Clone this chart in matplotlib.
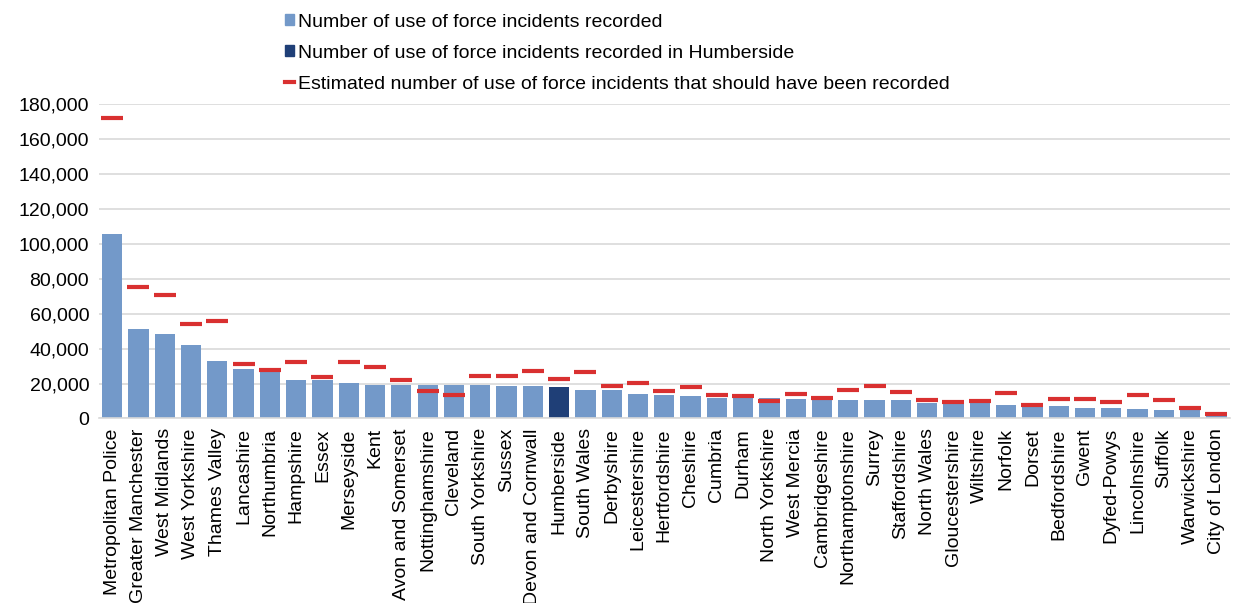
import matplotlib.pyplot as plt
import matplotlib as mpl
from matplotlib.patches import Patch
from matplotlib.lines import Line2D
import numpy as np

forces = ["Metropolitan Police", "Greater Manchester", "West Midlands", "West Yorkshire",
          "Thames Valley", "Lancashire", "Northumbria", "Hampshire", "Essex", "Merseyside",
          "Kent", "Avon and Somerset", "Nottinghamshire", "Cleveland", "South Yorkshire",
          "Sussex", "Devon and Cornwall", "Humberside", "South Wales", "Derbyshire",
          "Leicestershire", "Hertfordshire", "Cheshire", "Cumbria", "Durham",
          "North Yorkshire", "West Mercia", "Cambridgeshire", "Northamptonshire", "Surrey",
          "Staffordshire", "North Wales", "Gloucestershire", "Wiltshire", "Norfolk", "Dorset",
          "Bedfordshire", "Gwent", "Dyfed-Powys", "Lincolnshire", "Suffolk", "Warwickshire",
          "City of London"]

recorded = [105600, 51200, 48500, 42200, 32800, 28600, 28400, 22100, 21800, 20600,
            19300, 19300, 19100, 19100, 19100, 18700, 18700, 17900, 16400, 16200,
            14300, 13500, 12900, 12000, 12000, 11500, 11100, 11000, 10500, 10500,
            10500, 8600, 8600, 8600, 7600, 6900, 6900, 5900, 5900, 5300, 4800, 4800, 1500]

estimated = [172000, 75200, 71000, 54400, 56100, 31100, 27500, 32100, 23800, 32100,
             29600, 21900, 15500, 13500, 24200, 24600, 27100, 22500, 26700, 18500,
             20600, 15600, 17900, 13200, 13000, 9900, 14300, 11600, 16200, 18500,
             15300, 10700, 9500, 9900, 14700, 8000, 11200, 11000, 9500, 13400, 10700,
             5900, 2500]

highlight = "Humberside"
yticks = np.arange(0, 180001, 20000)

light = "#7399C9"
dark = "#1F3F77"
red = "#D93030"

mpl.rcParams["font.family"] = ["Liberation Sans", "DejaVu Sans"]
mpl.rcParams["font.size"] = 14

fig = plt.figure(figsize=(12.37, 6.03), dpi=100)
ax = fig.add_axes([0.080, 0.306, 0.914, 0.521])

x = np.arange(len(forces))
colors = [dark if f == highlight else light for f in forces]
ax.bar(x, recorded, width=0.77, color=colors, zorder=2)
ax.plot(x, estimated, linestyle="none", marker="_", markersize=15.5,
        markeredgewidth=3, color=red, zorder=3)

ax.set_xlim(-0.5, len(forces) - 0.5)
ax.set_ylim(0, 180000)
ax.set_yticks(yticks)
ax.set_yticklabels([f"{v:,}" for v in yticks])
ax.set_xticks(x)
ax.set_xticklabels(forces, rotation=90)
ax.tick_params(length=0, pad=7, colors="#000000")
ax.grid(axis="y", color="#D9D9D9", linewidth=1.2, zorder=0)
for s in ["top", "right", "left"]:
    ax.spines[s].set_visible(False)
ax.spines["bottom"].set_color("#D9D9D9")
ax.spines["bottom"].set_linewidth(1.2)

handles = [Patch(color=light), Patch(color=dark),
           Line2D([], [], color=red, linewidth=3)]
labels = ["Number of use of force incidents recorded",
          "Number of use of force incidents recorded in Humberside",
          "Estimated number of use of force incidents that should have been recorded"]
fig.legend(handles, labels, loc="upper left", bbox_to_anchor=(0.219, 1.0),
           frameon=False, handlelength=0.5, handleheight=0.5, handletextpad=0.2,
           labelspacing=0.72, borderaxespad=0.3)

fig.savefig("out.png", dpi=100)
